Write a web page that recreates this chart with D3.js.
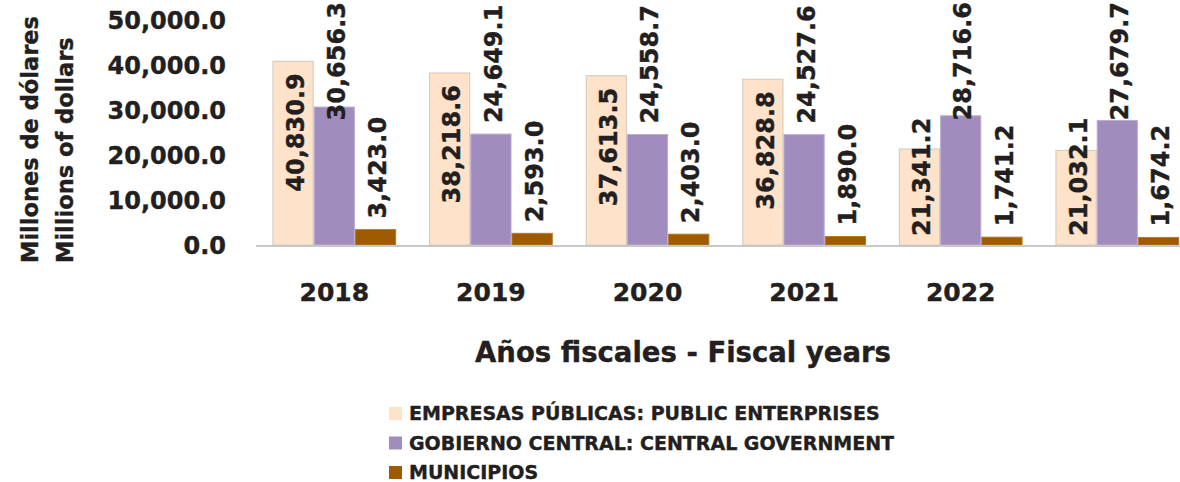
<!DOCTYPE html>
<html>
<head>
<meta charset="utf-8">
<script src="https://cdn.jsdelivr.net/npm/d3@7/dist/d3.min.js"></script>
<style>
  html, body { margin: 0; padding: 0; background: #ffffff; }
  svg { display: block; }
  text { font-family: "DejaVu Sans", sans-serif; font-weight: bold; fill: #231F20; stroke: #231F20; stroke-width: 0.4px; }
</style>
</head>
<body>
<svg id="chart" width="1180" height="482"></svg>
<script>
// ---- data ----
const categories = ["2018", "2019", "2020", "2021", "2022", "2023"];
const categoryLabels = ["2018", "2019", "2020", "2021", "2022", ""];
const seriesNames = [
  "EMPRESAS PÚBLICAS: PUBLIC ENTERPRISES",
  "GOBIERNO CENTRAL: CENTRAL GOVERNMENT",
  "MUNICIPIOS"
];
const empresas = [40830.9, 38218.6, 37613.5, 36828.8, 21341.2, 21032.1];
const gobierno = [30656.3, 24649.1, 24558.7, 24527.6, 28716.6, 27679.7];
const municipios = [3423.0, 2593.0, 2403.0, 1890.0, 1741.2, 1674.2];
const yTicks = [0, 10000, 20000, 30000, 40000, 50000];
const yTitleLines = ["Millones de dólares", "Millions of dollars"];
const xTitle = "Años fiscales - Fiscal years";

const seriesValues = [empresas, gobierno, municipios];
const fills = ["#FEE2CA", "#A18CBE", "#9E5A00"];
const strokes = ["#D2C8BE", "#BBAED2", "#B8782A"];

// ---- scales ----
const svg = d3.select("#chart");
const x0 = d3.scaleBand().domain(categories).range([256, 1195.6]).paddingInner(0.21).paddingOuter(0.105);
const x1 = d3.scaleBand().domain(d3.range(3)).range([0, x0.bandwidth()]);
const y = d3.scaleLinear().domain([0, 50000]).range([245, 20]);
const fmt = d3.format(",.1f");

// ---- bars ----
const groups = svg.append("g").selectAll("g").data(categories).join("g")
  .attr("transform", d => `translate(${x0(d)},0)`);

groups.each(function(cat, ci) {
  const g = d3.select(this);
  seriesValues.forEach((vals, si) => {
    g.append("rect")
      .attr("x", x1(si) + 0.5)
      .attr("y", y(vals[ci]))
      .attr("width", x1.bandwidth() - 1)
      .attr("height", y(0) - y(vals[ci]))
      .attr("fill", fills[si])
      .attr("stroke", strokes[si])
      .attr("stroke-width", 1);
  });
});

// ---- axis line ----
svg.append("line")
  .attr("x1", 256).attr("x2", 1180)
  .attr("y1", y(0) + 1).attr("y2", y(0) + 1)
  .attr("stroke", "#C8C8C8").attr("stroke-width", 2.2);

// ---- y axis labels ----
const yAxis = d3.axisLeft(y).tickValues(yTicks).tickFormat(fmt).tickSize(0).tickPadding(0);
const yg = svg.append("g").attr("transform", "translate(226,0)").call(yAxis);
yg.select(".domain").remove();
yg.selectAll("text")
  .attr("font-family", "DejaVu Sans").attr("font-weight", "bold")
  .attr("font-size", 24).attr("fill", "#231F20").attr("dy", "0.36em");

// ---- x axis labels ----
const xAxis = d3.axisBottom(x0).tickFormat((d, i) => categoryLabels[i]).tickSize(0).tickPadding(0);
const xg = svg.append("g").attr("transform", "translate(0,283)").call(xAxis);
xg.select(".domain").remove();
xg.selectAll("text")
  .attr("font-family", "DejaVu Sans").attr("font-weight", "bold")
  .attr("font-size", 25).attr("fill", "#231F20").attr("dy", "0.71em");

// ---- data labels ----
groups.each(function(cat, ci) {
  const g = d3.select(this);
  seriesValues.forEach((vals, si) => {
    const v = vals[ci];
    const cx = x1(si) + x1.bandwidth() / 2 + 2;
    const t = g.append("text")
      .attr("font-size", 24)
      .attr("text-anchor", "start")
      .attr("dy", "0.36em")
      .text(fmt(v));
    const len = t.node().getComputedTextLength();
    let start;
    if (si === 0) {
      start = y(v) + 12 + len;
      if (start > 236) start = 236;
    } else {
      start = y(v) - 11;
      if (start - len < 2) start = 2 + len;
    }
    t.attr("transform", `translate(${cx},${start}) rotate(-90)`);
  });
});

// ---- axis titles ----
yTitleLines.forEach((line, i) => {
  svg.append("text")
    .attr("transform", `translate(${38 + i * 35},263) rotate(-90)`)
    .attr("text-anchor", "start")
    .attr("font-size", 22.5)
    .text(line);
});

svg.append("text")
  .attr("x", 683).attr("y", 362)
  .attr("text-anchor", "middle")
  .attr("font-size", 27.5)
  .text(xTitle);

// ---- legend ----
const legend = svg.append("g").attr("transform", "translate(389,407)");
seriesNames.forEach((name, i) => {
  const row = legend.append("g").attr("transform", `translate(0,${i * 29.5})`);
  row.append("rect").attr("width", 13).attr("height", 13).attr("fill", fills[i]);
  row.append("text").attr("x", 20).attr("y", 6.5).attr("dy", "0.36em")
    .attr("font-size", 19).text(name);
});
</script>
</body>
</html>
